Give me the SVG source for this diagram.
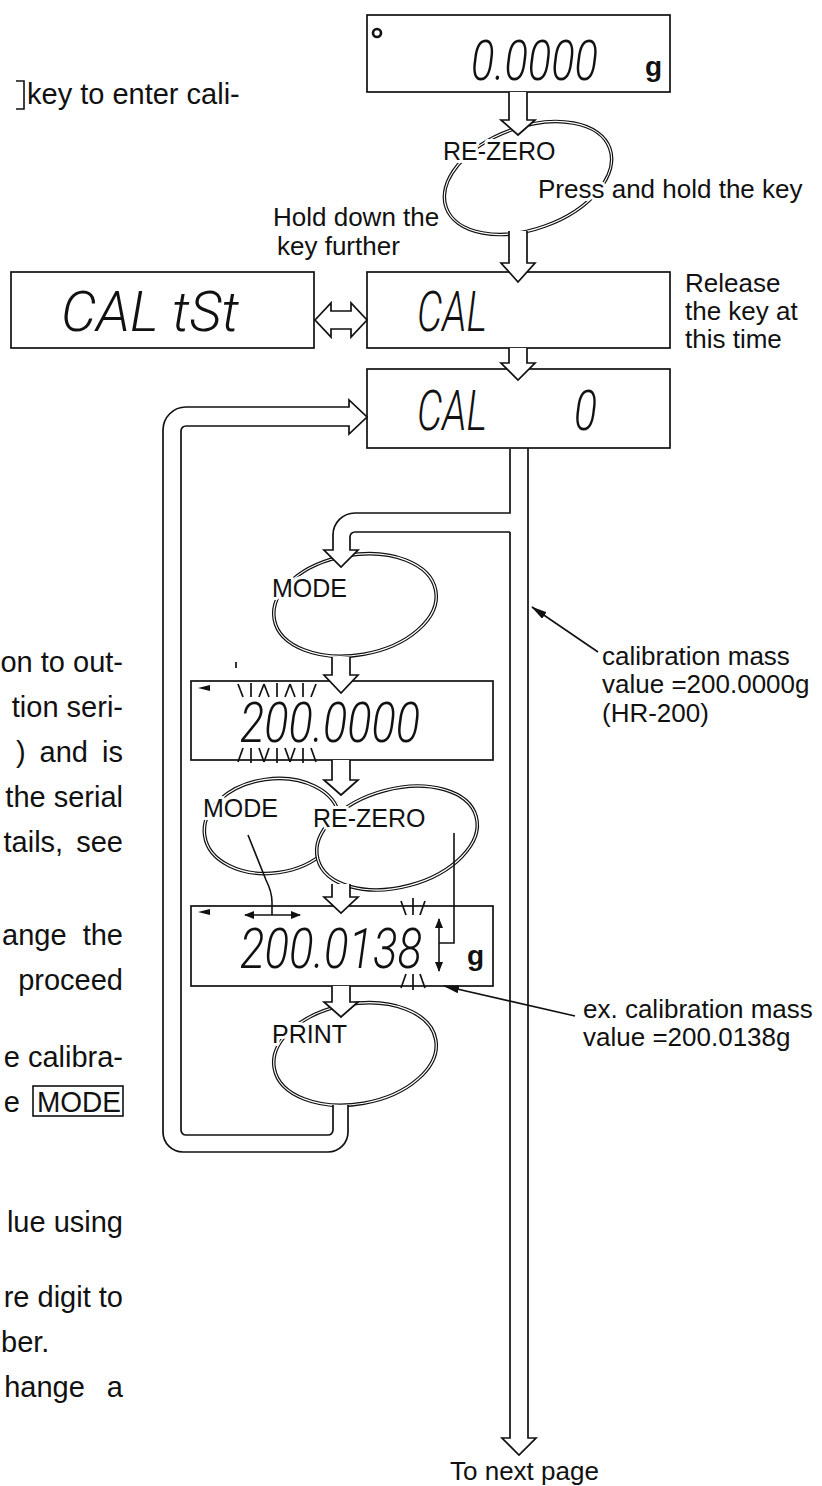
<svg xmlns="http://www.w3.org/2000/svg" width="822" height="1486" viewBox="0 0 822 1486">
<style>
.box{fill:#fff;stroke:#111;stroke-width:1.7}
.lcd{font-family:Roboto,"DejaVu Sans",sans-serif;font-style:italic;font-weight:300;font-size:56px;fill:#111}
.lbl{font-family:"Liberation Sans",Arial,sans-serif;font-size:26px;fill:#111}
.body{font-family:"Liberation Sans",Arial,sans-serif;font-size:29px;fill:#111}
.key{font-family:"Liberation Sans",Arial,sans-serif;font-size:25px;fill:#111;stroke:#fff;stroke-width:6;paint-order:stroke;stroke-linejoin:round}
.unit{font-family:"Liberation Sans",Arial,sans-serif;font-size:28px;font-weight:bold;fill:#111}
.hol{fill:#fff;stroke:#111;stroke-width:1.7;stroke-linejoin:miter}
.eo{fill:none;stroke:#111;stroke-width:3.6}
.ei{fill:none;stroke:#fff;stroke-width:1.2}
.ew{fill:#fff;stroke:none}
.thin{fill:none;stroke:#111;stroke-width:1.6}
.blink{stroke:#111;stroke-width:1.7}
.tri{fill:#111}
</style>
<defs>
<marker id="ah" viewBox="0 0 16 8" refX="15" refY="4" markerWidth="16" markerHeight="8" markerUnits="userSpaceOnUse" orient="auto-start-reverse">
<path d="M0,0 L16,4 L0,8 Z" fill="#111"/>
</marker>
<marker id="sh" viewBox="0 0 10 8" refX="9" refY="4" markerWidth="10" markerHeight="8" markerUnits="userSpaceOnUse" orient="auto-start-reverse">
<path d="M0,0 L10,4 L0,8 Z" fill="#111"/>
</marker>
</defs>
<rect width="822" height="1486" fill="#fff"/>

<!-- body text (cut-off page column) -->
<g id="body-text">
<path class="thin" d="M16,81 H24 V109 H16"/>
<text class="body" x="27" y="104">key to enter cali-</text>
<text class="body" x="123" y="672" text-anchor="end">on to out-</text>
<text class="body" x="123" y="717" text-anchor="end">tion seri-</text>
<text class="body" x="123" y="762" text-anchor="end" word-spacing="6">) and is</text>
<text class="body" x="123" y="807" text-anchor="end">the serial</text>
<text class="body" x="123" y="852" text-anchor="end" word-spacing="5">tails, see</text>
<text class="body" x="123" y="945" text-anchor="end" word-spacing="8">ange the</text>
<text class="body" x="123" y="990" text-anchor="end">proceed</text>
<text class="body" x="123" y="1067" text-anchor="end">e calibra-</text>
<text class="body" x="20" y="1112" text-anchor="end">e</text>
<rect x="33" y="1086" width="90" height="30" fill="none" stroke="#111" stroke-width="1.6"/>
<text class="body" x="37" y="1112" textLength="84" lengthAdjust="spacingAndGlyphs">MODE</text>
<text class="body" x="123" y="1232" text-anchor="end">lue using</text>
<text class="body" x="123" y="1307" text-anchor="end">re digit to</text>
<text class="body" x="1" y="1352">ber.</text>
<text class="body" x="123" y="1397" text-anchor="end" word-spacing="14">hange a</text>
</g>

<!-- key ellipses (drawn under arrows) -->
<g id="key-rezero-1">
<ellipse class="eo" cx="528" cy="178" rx="87" ry="51" transform="rotate(-20 528 178)"/>
<ellipse class="ei" cx="528" cy="178" rx="87" ry="51" transform="rotate(-20 528 178)"/>
</g>
<g id="key-mode-1">
<ellipse class="eo" cx="355" cy="605" rx="82" ry="50" transform="rotate(-10 355 605)"/>
<ellipse class="ei" cx="355" cy="605" rx="82" ry="50" transform="rotate(-10 355 605)"/>
</g>
<g id="key-mode-2">
<ellipse class="eo" cx="272" cy="826" rx="68" ry="47" transform="rotate(-8 272 826)"/>
<ellipse class="ei" cx="272" cy="826" rx="68" ry="47" transform="rotate(-8 272 826)"/>
</g>
<g id="key-rezero-2">
<ellipse class="ew" cx="397" cy="838" rx="82" ry="49" transform="rotate(-15 397 838)"/>
<ellipse class="eo" cx="397" cy="838" rx="82" ry="49" transform="rotate(-15 397 838)"/>
<ellipse class="ei" cx="397" cy="838" rx="82" ry="49" transform="rotate(-15 397 838)"/>
</g>
<g id="key-print">
<ellipse class="eo" cx="355" cy="1054" rx="82" ry="50" transform="rotate(-10 355 1054)"/>
<ellipse class="ei" cx="355" cy="1054" rx="82" ry="50" transform="rotate(-10 355 1054)"/>
</g>

<!-- displays -->
<g id="disp-zero">
<rect class="box" x="367" y="15" width="303" height="77"/>
<circle cx="377" cy="33" r="4" fill="none" stroke="#111" stroke-width="2.6"/>
<text class="lcd" x="471" y="80" textLength="127" lengthAdjust="spacingAndGlyphs">0.0000</text>
<text class="unit" x="645" y="76">g</text>
</g>
<g id="disp-caltst">
<rect class="box" x="11" y="272" width="303" height="76"/>
<text class="lcd" x="61" y="331" textLength="178" lengthAdjust="spacingAndGlyphs">CAL tSt</text>
</g>
<g id="disp-cal">
<rect class="box" x="367" y="272" width="303" height="76"/>
<text class="lcd" x="417" y="331" textLength="70" lengthAdjust="spacingAndGlyphs">CAL</text>
</g>
<g id="disp-cal0">
<rect class="box" x="367" y="369" width="303" height="79"/>
<text class="lcd" x="417" y="430" textLength="70" lengthAdjust="spacingAndGlyphs">CAL</text>
<text class="lcd" x="574" y="430" textLength="23" lengthAdjust="spacingAndGlyphs">0</text>
</g>
<g id="disp-200-0000">
<rect class="box" x="191" y="681" width="302" height="79"/>
<polygon class="tri" points="198,688 210,685 210,691"/>
<text class="lcd" x="240" y="742" textLength="180" lengthAdjust="spacingAndGlyphs">200.0000</text>
<g class="blink">
<line x1="238" y1="684" x2="243" y2="697"/><line x1="251" y1="683" x2="251" y2="697"/><line x1="264" y1="684" x2="259" y2="697"/>
<line x1="264" y1="684" x2="269" y2="697"/><line x1="277" y1="683" x2="277" y2="697"/><line x1="290" y1="684" x2="285" y2="697"/>
<line x1="290" y1="684" x2="295" y2="697"/><line x1="303" y1="683" x2="303" y2="697"/><line x1="316" y1="684" x2="311" y2="697"/>
<line x1="243" y1="748" x2="238" y2="762"/><line x1="251" y1="748" x2="251" y2="763"/><line x1="259" y1="748" x2="264" y2="762"/>
<line x1="269" y1="748" x2="264" y2="762"/><line x1="277" y1="748" x2="277" y2="763"/><line x1="285" y1="748" x2="290" y2="762"/>
<line x1="295" y1="748" x2="290" y2="762"/><line x1="303" y1="748" x2="303" y2="763"/><line x1="311" y1="748" x2="316" y2="762"/>
<line x1="236" y1="662" x2="236" y2="668"/>
</g>
</g>
<g id="disp-200-0138">
<rect class="box" x="191" y="906" width="302" height="80"/>
<polygon class="tri" points="198,912 210,909 210,915"/>
<text class="lcd" x="240" y="968" textLength="182" lengthAdjust="spacingAndGlyphs">200.0138</text>
<text class="unit" x="467" y="965">g</text>
<g class="blink">
<line x1="401" y1="901" x2="406" y2="915"/><line x1="413" y1="898" x2="413" y2="915"/><line x1="425" y1="901" x2="420" y2="915"/>
<line x1="406" y1="974" x2="401" y2="988"/><line x1="413" y1="974" x2="413" y2="990"/><line x1="420" y1="974" x2="425" y2="988"/>
</g>
<line class="thin" x1="439" y1="919" x2="439" y2="971" marker-start="url(#sh)" marker-end="url(#sh)"/>
</g>

<!-- connectors -->
<g id="connectors">
<path class="hol" d="M509,92 V120 H501 L518,135 L535,120 H527 V92"/>
<path class="hol" d="M509,231 V263 H501 L518,282 L535,263 H527 V231"/>
<path class="hol" d="M509,348 V363 H501 L518,380 L535,363 H527 V348"/>
<path class="hol" d="M315,320 L331,303 V311 H351 V303 L367,320 L351,337 V329 H331 V337 Z"/>
<path class="hol" d="M510,532 V1438 H502 L519,1455 L536,1438 H528 V448"/>
<path class="hol" d="M510,449 V513 H355 A22,22 0 0 0 333,535 V550 H324 L341,567 L358,550 H350 V537 A5,5 0 0 1 355,532 H510"/>
<path class="hol" d="M348,1105 V1132 A20,20 0 0 1 328,1152 H183 A20,20 0 0 1 163,1132 V430 A23,23 0 0 1 186,407 H349 V400 L367,417 L349,434 V426 H186 A5,5 0 0 0 181,431 V1130 A5,5 0 0 0 186,1135 H328 A5,5 0 0 0 333,1130 V1105"/>
<path class="hol" d="M332,657 V675 H324 L341,693 L358,675 H350 V657"/>
<path class="hol" d="M332,760 V780 H324 L341,795 L358,780 H350 V760"/>
<path class="hol" d="M332,884 V897 H324 L341,913 L358,897 H350 V884"/>
<path class="hol" d="M332,986 V1002 H324 L341,1017 L358,1002 H350 V986"/>
<path class="thin" d="M248,835 L266,880 Q272,892 272,902 V915"/>
<line class="thin" x1="245" y1="915" x2="300" y2="915" marker-start="url(#sh)" marker-end="url(#sh)"/>
<path class="thin" d="M454,833 V943 H439"/>
<line class="thin" x1="598" y1="652" x2="532" y2="607" marker-end="url(#ah)"/>
<line class="thin" x1="575" y1="1016" x2="444" y2="986" marker-end="url(#ah)"/>
</g>

<!-- key labels -->
<g id="key-labels">
<text class="key" x="443" y="160">RE-ZERO</text>
<text class="key" x="272" y="597">MODE</text>
<text class="key" x="203" y="817">MODE</text>
<text class="key" x="313" y="827">RE-ZERO</text>
<text class="key" x="272" y="1043">PRINT</text>
</g>

<!-- annotations -->
<g id="notes">
<text class="lbl" x="538" y="198" stroke="#fff" stroke-width="6" paint-order="stroke">Press and hold the key</text>
<text class="lbl" x="273" y="226">Hold down the</text>
<text class="lbl" x="277" y="255">key further</text>
<text class="lbl" x="685" y="292">Release</text>
<text class="lbl" x="685" y="320">the key at</text>
<text class="lbl" x="685" y="348">this time</text>
<text class="lbl" x="602" y="665">calibration mass</text>
<text class="lbl" x="602" y="693">value =200.0000g</text>
<text class="lbl" x="602" y="722">(HR-200)</text>
<text class="lbl" x="583" y="1018">ex. calibration mass</text>
<text class="lbl" x="583" y="1046">value =200.0138g</text>
<text class="lbl" x="450" y="1480">To next page</text>
</g>
</svg>
